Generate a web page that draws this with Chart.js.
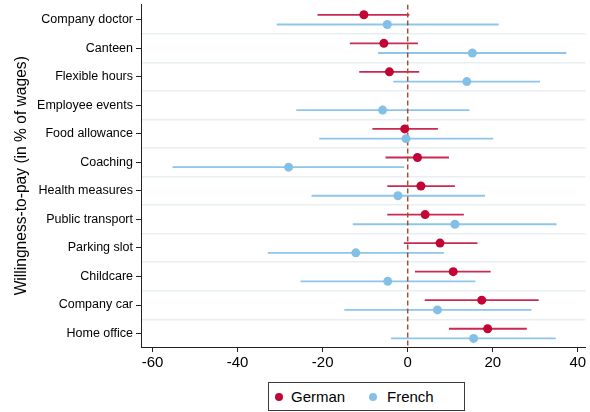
<!DOCTYPE html>
<html>
<head>
<meta charset="utf-8">
<script src="https://cdn.jsdelivr.net/npm/chart.js@4.4.1/dist/chart.umd.min.js"></script>
<style>
  body { margin: 0; background: #fff; font-family: "Liberation Sans", Arial, sans-serif; }
  #wrap { position: relative; width: 590px; height: 412px; }
  #chart { position: absolute; left: 0; top: 0; }
  #legend { position: absolute; left: 268px; top: 382px; width: 195px; height: 27px; border: 1px solid #3a3a3a; font-size: 15px; line-height: 17px; color: #000; }
  .dot { position: absolute; width: 8px; height: 8px; border-radius: 50%; top: 10px; }
  .lab { position: absolute; top: 5px; }
</style>
</head>
<body>
<div id="wrap">
  <canvas id="chart" width="590" height="372"></canvas>
  <div id="legend">
    <span class="dot" style="left:6px;background:#c10534"></span><span class="lab" style="left:22px">German</span>
    <span class="dot" style="left:100px;background:#84bfe8"></span><span class="lab" style="left:118px">French</span>
  </div>
</div>
<script>
// categorias e valores
const categories = ['Company doctor', 'Canteen', 'Flexible hours', 'Employee events', 'Food allowance', 'Coaching',
  'Health measures', 'Public transport', 'Parking slot', 'Childcare', 'Company car', 'Home office'];
const germanEst = [-10.3, -5.6, -4.3, null, -0.7, 2.3, 3.1, 4.1, 7.6, 10.7, 17.4, 18.8];
const germanLo = [-21.2, -13.6, -11.4, null, -8.3, -5.2, -4.8, -4.8, -0.9, 1.7, 4.0, 9.7];
const germanHi = [0.4, 2.4, 2.7, null, 7.1, 9.7, 11.1, 13.2, 16.4, 19.5, 30.8, 28.0];
const frenchEst = [-4.8, 15.2, 13.9, -5.9, -0.4, -28.0, -2.3, 11.1, -12.2, -4.7, 7.0, 15.5];
const frenchLo = [-30.8, -7.0, -3.4, -26.2, -20.8, -55.3, -22.6, -12.9, -32.9, -25.2, -14.9, -3.9];
const frenchHi = [21.4, 37.3, 31.1, 14.5, 20.1, -0.8, 18.2, 35.0, 8.5, 15.9, 29.1, 34.8];
const xTicks = [-60, -40, -20, 0, 20, 40];

const FONT = '"Liberation Sans", Arial, sans-serif';
const yMin = 0.47, yMax = 12.47;
const off = 0.17; // deslocamento vertical entre as duas séries

function points(est, shift) {
  const out = [];
  est.forEach((v, i) => { if (v !== null) out.push({ x: v, y: i + 1 + shift }); });
  return out;
}
function ciLines(lo, hi, shift) {
  const out = [];
  lo.forEach((v, i) => {
    if (v === null) return;
    out.push({ x: v, y: i + 1 + shift }, { x: hi[i], y: i + 1 + shift }, { x: null, y: null });
  });
  return out;
}

new Chart(document.getElementById('chart'), {
  type: 'scatter',
  data: {
    datasets: [
      { type: 'line', data: ciLines(germanLo, germanHi, -off), borderColor: 'rgba(193,5,52,0.85)', borderWidth: 1.8,
        pointRadius: 0, spanGaps: false, order: 4 },
      { type: 'line', data: ciLines(frenchLo, frenchHi, off), borderColor: '#8ec5ea', borderWidth: 1.8,
        pointRadius: 0, spanGaps: false, order: 4 },
      // linha tracejada no zero
      { type: 'line', data: [{ x: 0, y: yMin }, { x: 0, y: yMax }], borderColor: '#a0522d', borderWidth: 1.5,
        borderDash: [5, 3], pointRadius: 0, order: 3 },
      { label: 'German', data: points(germanEst, -off), backgroundColor: '#c10534', borderWidth: 0, pointRadius: 4.5, order: 1 },
      { label: 'French', data: points(frenchEst, off), backgroundColor: '#84bfe8', borderWidth: 0, pointRadius: 4.5, order: 1 }
    ]
  },
  options: {
    responsive: false,
    animation: false,
    devicePixelRatio: 1,
    layout: { padding: { top: 2, right: 1, left: 0, bottom: 0 } },
    plugins: { legend: { display: false }, tooltip: { enabled: false } },
    scales: {
      x: {
        type: 'linear', min: -62.7, max: 41.8,
        afterBuildTicks: s => { s.ticks = xTicks.map(v => ({ value: v })); },
        afterFit: s => { s.height = 25; s.paddingLeft = 0; s.paddingRight = 0; },
        ticks: { font: { family: FONT, size: 15 }, color: '#000', padding: 2, maxRotation: 0 },
        grid: { drawOnChartArea: false, tickLength: 5, tickColor: '#222' },
        border: { color: '#222' }
      },
      y: {
        type: 'linear', reverse: true, min: yMin, max: yMax,
        afterBuildTicks: s => { s.ticks = categories.map((c, i) => ({ value: i + 1 })); },
        afterFit: s => { s.width = 141; s.paddingTop = 0; s.paddingBottom = 0; },
        ticks: { callback: v => categories[v - 1], font: { family: FONT, size: 12.5 }, color: '#000', padding: 3, autoSkip: false },
        grid: { drawOnChartArea: false, tickLength: 5, tickColor: '#222' },
        border: { color: '#222' },
        title: { display: true, text: 'Willingness-to-pay (in % of wages)', color: '#000',
          font: { family: FONT, size: 15.6 }, padding: { top: 12.5, bottom: 0 } }
      },
      // eixo auxiliar só para as linhas de grade entre categorias
      yGrid: {
        type: 'linear', position: 'left', reverse: true, min: yMin, max: yMax,
        afterBuildTicks: s => { s.ticks = categories.slice(1).map((c, i) => ({ value: i + 1.5 })); },
        afterFit: s => { s.width = 0; s.paddingTop = 0; s.paddingBottom = 0; },
        ticks: { display: false },
        grid: { color: '#e8eff1', lineWidth: 1.5, drawTicks: false },
        border: { display: false }
      }
    }
  }
});
</script>
</body>
</html>
